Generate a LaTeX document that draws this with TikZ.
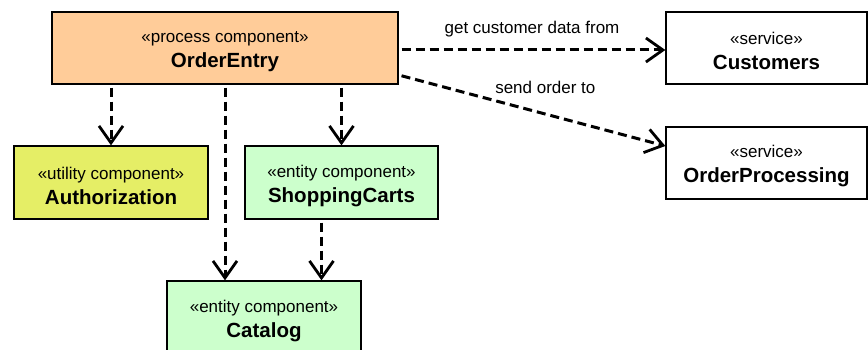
\documentclass[tikz,border=0pt]{standalone}
\usepackage{fontspec}
\setmainfont{Liberation Sans}
\usepackage{tikz}
\usetikzlibrary{arrows.meta}
\usetikzlibrary{positioning}
\definecolor{peach}{RGB}{255,204,153}
\definecolor{lime}{RGB}{229,238,102}
\definecolor{mint}{RGB}{204,255,204}
\tikzstyle{box_node} = [
    rectangle,
    draw=black,
    line width=1.3pt,
    align=center,
    inner sep=0pt,
    font=\fontsize{17}{25}\selectfont,
    minimum height=72pt
]
\tikzstyle{process_node} = [box_node, fill=peach, minimum width=346pt]
\tikzstyle{utility_node} = [box_node, fill=lime, minimum width=194pt, minimum height=73pt]
\tikzstyle{entity_node} = [box_node, fill=mint, minimum height=73pt]
\tikzstyle{service_node} = [box_node, fill=white, minimum width=201pt]
\tikzstyle{dep_arrow} = [
    line width=3pt,
    dash pattern=on 9pt off 5pt,
    shorten <=3pt,
    -{Straight Barb[length=17pt, width=24pt, line width=2.8pt]}
]
\tikzstyle{dep_label} = [font=\fontsize{17}{20}\selectfont, inner sep=0pt]
\newcommand{\stereo}[2]{\rule{0pt}{19pt}\guillemotleft #1\guillemotright\\{\fontsize{20.5}{24}\selectfont\bfseries #2}}

\begin{document}
\begin{tikzpicture}[x=1pt, y=-1pt]
\useasboundingbox (0,0) rectangle (868,350);
% components
\node [process_node] (entry) at (225,48) {\stereo{process component}{OrderEntry}};
\node [service_node] (customers) at (766.5,48) {\stereo{service}{Customers}};
\node [service_node] (processing) at (766.5,163) {\stereo{service}{OrderProcessing}};
\node [utility_node] (auth) at (111,182.5) {\stereo{utility component}{Authorization}};
\node [entity_node, minimum width=193pt] (carts) at (341.5,182.5) {\stereo{entity component}{ShoppingCarts}};
\node [entity_node, minimum width=194pt] (catalog) at (264,317.5) {\stereo{entity component}{Catalog}};
% dependencies
\draw [dep_arrow] ([yshift=-2pt]entry.east) -- ([yshift=-2pt]customers.west)
    node [dep_label, midway, above=11pt] {get customer data from};
\draw [dep_arrow] ([yshift=-27pt]entry.east) -- ([yshift=17pt]processing.west)
    node [dep_label, pos=0.55, above=19pt] {send order to};
\draw [dep_arrow] (auth.north |- entry.south) -- (auth.north);
\draw [dep_arrow] (entry.south) -- (entry.south |- catalog.north);
\draw [dep_arrow] (carts.north |- entry.south) -- (carts.north);
\draw [dep_arrow] ([xshift=-20pt]carts.south) -- ([xshift=-20pt]carts.south |- catalog.north);
\end{tikzpicture}
\end{document}
